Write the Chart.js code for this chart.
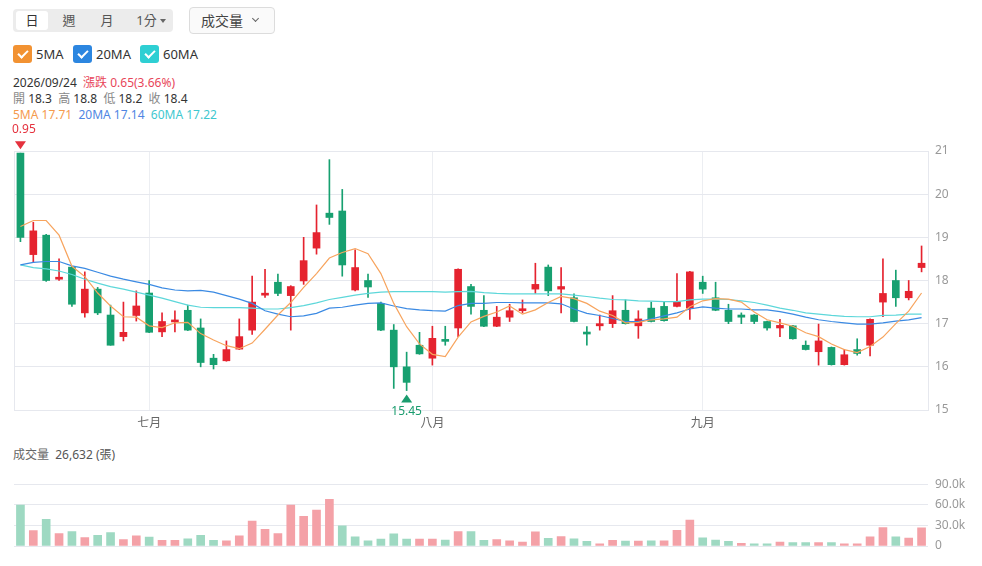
<!DOCTYPE html>
<html lang="zh-Hant">
<head>
<meta charset="UTF-8">
<title>日K線</title>
<script src="https://cdn.jsdelivr.net/npm/chart.js"></script>
<style>
  body { margin: 0; width: 982px; height: 566px; position: relative; overflow: hidden; background: #fff;
         font-family: "Noto Sans", "Noto Sans CJK TC", sans-serif; color: #333; }
  .abs { position: absolute; }
  .seg { left: 13px; top: 9px; width: 160px; height: 23px; background: #ececec; border-radius: 4px; }
  .seg span { position: absolute; top: 2px; height: 19px; line-height: 19px; font-size: 13px; color: #555; text-align: center; }
  .seg .on { background: #fff; border-radius: 3px; color: #333; }
  .caret { display: inline-block; width: 0; height: 0; border-left: 3px solid transparent; border-right: 3px solid transparent;
           border-top: 4px solid #666; vertical-align: middle; margin-left: 3px; margin-top: -2px; }
  .drop { left: 189px; top: 7px; width: 84px; height: 25px; border: 1px solid #dcdcdc; border-radius: 4px; background: #fafafa; }
  .drop span { position: absolute; left: 11px; top: 0; line-height: 25px; font-size: 14px; color: #444; }
  .drop i { position: absolute; left: 63px; top: 8px; width: 4px; height: 4px; border-right: 1.3px solid #666; border-bottom: 1.3px solid #666; transform: rotate(45deg); }
  .cb { top: 45px; width: 19px; height: 18px; border-radius: 3px; }
  .cb::after { content: ""; position: absolute; left: 7px; top: 3px; width: 4px; height: 8px; border-right: 2px solid #fff; border-bottom: 2px solid #fff; transform: rotate(45deg); }
  .cbl { top: 45px; line-height: 18px; font-size: 13px; color: #333; }
  .info { left: 13px; font-size: 12px; line-height: 16px; white-space: pre; }
  .g { color: #888; }
  #price { left: 0; top: 118px; width: 982px; height: 312px; }
  #vol { left: 0; top: 470px; width: 982px; height: 96px; }
</style>
</head>
<body>
<div class="abs seg">
  <span class="on" style="left:3px;width:32px">日</span>
  <span style="left:40px;width:32px">週</span>
  <span style="left:78px;width:32px">月</span>
  <span style="left:118px;width:40px">1分<b class="caret"></b></span>
</div>
<div class="abs drop"><span>成交量</span><i></i></div>

<div class="abs cb" style="left:13px;background:#f29232"></div>
<div class="abs cbl" style="left:36px">5MA</div>
<div class="abs cb" style="left:73px;background:#2c86e0"></div>
<div class="abs cbl" style="left:96px">20MA</div>
<div class="abs cb" style="left:140px;background:#2ecfd3"></div>
<div class="abs cbl" style="left:163px">60MA</div>

<div class="abs info" id="line1" style="top:75px"></div>
<div class="abs info" id="line2" style="top:91px"></div>
<div class="abs info" id="line3" style="top:107px"></div>
<div class="abs info" id="volLine" style="top:447px;color:#555"></div>

<div class="abs" id="price"><canvas id="priceChart"></canvas></div>
<div class="abs" id="vol"><canvas id="volChart"></canvas></div>

<script>
// 日期 (交易日)
const dates = [
  '2026/06/16','2026/06/17','2026/06/18','2026/06/22','2026/06/23','2026/06/24','2026/06/25','2026/06/26','2026/06/29','2026/06/30',
  '2026/07/01','2026/07/02','2026/07/03','2026/07/06','2026/07/07','2026/07/08','2026/07/09','2026/07/10','2026/07/13','2026/07/15',
  '2026/07/16','2026/07/17','2026/07/20','2026/07/21','2026/07/22','2026/07/23','2026/07/24','2026/07/27','2026/07/28','2026/07/29',
  '2026/07/30','2026/07/31',
  '2026/08/03','2026/08/04','2026/08/05','2026/08/06','2026/08/07','2026/08/10','2026/08/11','2026/08/12','2026/08/13','2026/08/14',
  '2026/08/17','2026/08/18','2026/08/19','2026/08/20','2026/08/21','2026/08/24','2026/08/25','2026/08/26','2026/08/27','2026/08/28',
  '2026/08/31',
  '2026/09/01','2026/09/02','2026/09/03','2026/09/04','2026/09/07','2026/09/08','2026/09/09','2026/09/10','2026/09/11','2026/09/14',
  '2026/09/15','2026/09/16','2026/09/17','2026/09/18','2026/09/21','2026/09/22','2026/09/23','2026/09/24'
];
const monthNames = ['一月','二月','三月','四月','五月','六月','七月','八月','九月','十月','十一月','十二月'];

// 開高低收
const opens  = [20.95,18.60,19.05,18.03,18.31,17.25,17.80,17.20,16.70,17.19,17.71,16.81,17.04,17.31,16.90,16.20,16.14,16.41,16.85,17.66,
                17.96,17.65,17.99,18.75,19.56,19.61,17.78,18.00,17.47,16.85,16.00,16.50,16.20,16.61,16.90,17.86,17.31,16.94,17.15,17.30,
                17.80,18.31,17.80,17.60,16.79,16.95,17.00,17.31,16.95,17.36,17.40,17.40,17.36,17.96,17.60,17.31,17.20,17.20,17.05,16.90,
                16.95,16.50,16.35,16.45,16.05,16.40,16.50,17.50,18.00,17.60,18.30];
const highs  = [20.95,19.35,19.07,18.50,18.33,18.20,17.84,17.43,17.50,17.76,18.00,17.25,17.30,17.43,17.11,16.29,16.60,17.11,18.10,18.26,
                18.15,17.88,19.00,19.75,20.80,20.11,18.71,18.15,17.50,16.98,16.34,16.80,16.94,16.94,18.27,17.91,17.65,17.40,17.45,17.55,
                18.40,18.36,18.30,17.69,16.93,17.20,17.65,17.55,17.30,17.50,17.50,18.16,18.21,18.10,17.96,17.45,17.25,17.21,17.06,17.10,
                16.96,16.60,16.99,16.46,16.40,16.65,17.11,18.50,18.24,18.00,18.80];
const lows   = [18.90,18.42,17.98,18.00,17.40,17.15,17.21,16.50,16.60,17.06,16.79,16.70,16.81,16.84,16.00,15.95,16.13,16.40,16.75,17.61,
                17.65,16.85,17.91,18.61,19.30,18.10,17.76,17.61,16.84,15.50,15.45,16.29,16.04,16.50,16.70,17.22,16.93,16.93,17.05,17.25,
                17.70,17.65,17.25,17.04,16.50,16.85,16.91,16.99,16.66,17.04,17.06,17.39,17.10,17.70,17.30,17.00,17.00,17.00,16.85,16.70,
                16.64,16.39,16.04,16.04,16.04,16.27,16.25,17.16,17.40,17.55,18.20];
const closes = [19.00,19.15,18.00,18.07,17.45,17.80,17.25,16.50,16.80,17.41,16.80,17.05,17.06,16.85,16.10,16.05,16.40,16.70,17.50,17.68,
                17.70,17.86,18.46,19.11,19.46,18.36,18.30,17.85,16.85,16.00,15.64,16.30,16.66,16.59,18.26,17.40,16.94,17.15,17.30,17.32,
                17.91,17.76,17.86,17.05,16.76,17.00,17.30,17.00,17.11,17.05,17.07,17.51,18.20,17.80,17.31,17.05,17.15,17.05,16.90,16.96,
                16.65,16.40,16.60,16.05,16.28,16.31,17.10,17.70,17.60,17.75,18.40];

// 均線
const ma5  = [19.25,19.39,19.39,19.05,18.33,18.09,17.71,17.41,17.16,17.15,16.95,16.91,17.02,17.03,16.77,16.62,16.49,16.42,16.55,16.87,
              17.20,17.49,17.84,18.16,18.52,18.65,18.74,18.62,18.16,17.47,16.93,16.53,16.29,16.24,16.69,17.04,17.17,17.27,17.41,17.22,
              17.32,17.49,17.63,17.58,17.47,17.29,17.19,17.02,17.03,17.09,17.11,17.15,17.39,17.53,17.58,17.57,17.50,17.27,17.09,17.02,
              16.94,16.79,16.70,16.53,16.40,16.33,16.47,16.69,17.00,17.29,17.71];
const ma20 = [18.36,18.42,18.44,18.44,18.34,18.28,18.19,18.10,18.03,17.97,17.91,17.83,17.78,17.76,17.77,17.73,17.65,17.57,17.47,17.30,
              17.22,17.16,17.18,17.24,17.36,17.38,17.43,17.47,17.48,17.41,17.35,17.32,17.30,17.29,17.42,17.47,17.47,17.49,17.49,17.48,
              17.48,17.48,17.46,17.34,17.24,17.19,17.12,17.05,17.05,17.11,17.18,17.25,17.34,17.39,17.36,17.34,17.34,17.32,17.32,17.28,
              17.22,17.15,17.09,17.05,17.02,16.99,16.99,17.02,17.06,17.09,17.14];
const ma60 = [18.36,18.30,18.27,18.22,18.14,18.03,17.94,17.86,17.80,17.73,17.66,17.59,17.51,17.43,17.38,17.37,17.37,17.37,17.36,17.34,
              17.34,17.37,17.42,17.48,17.56,17.61,17.66,17.70,17.73,17.74,17.74,17.74,17.74,17.73,17.74,17.75,17.72,17.70,17.69,17.69,
              17.69,17.69,17.69,17.66,17.63,17.59,17.56,17.55,17.53,17.52,17.51,17.51,17.55,17.57,17.57,17.56,17.53,17.49,17.43,17.36,
              17.31,17.25,17.22,17.19,17.17,17.16,17.16,17.19,17.20,17.22,17.22];

// 成交量 (張)
const volumes = [59500,22400,39000,18000,21000,12400,15700,19500,9500,14800,12900,8100,8100,10500,15700,8100,7600,14800,36200,24300,
                 18100,59500,43300,52400,68000,29500,13300,7600,10000,17600,10000,10000,10000,8600,21000,21000,8100,9500,7600,5700,
                 20500,11000,13800,10500,6700,3300,8100,7100,7100,7600,7600,22800,37600,11900,8600,6700,3800,3300,3300,5700,
                 4800,4800,4800,4800,3300,3300,13300,26700,13300,11400,26632];

const UP = '#e5232f', DOWN = '#17a070';
const UP_VOL = '#f4a1a7', DOWN_VOL = '#9ed9c2';
const GRID = '#e6e8ee';

Chart.defaults.font.family = '"Noto Sans", "Noto Sans CJK TC", sans-serif';
Chart.defaults.animation = false;

// 標頭文字
const n = closes.length - 1;
const chg = closes[n] - closes[n - 1];
document.getElementById('line1').innerHTML =
  dates[n] + '  <span style="color:#e8465a">漲跌 ' + chg.toFixed(2) + '(' + (chg / closes[n - 1] * 100).toFixed(2) + '%)</span>';
document.getElementById('line2').innerHTML =
  '<span class="g">開</span> ' + opens[n].toFixed(1) + '  <span class="g">高</span> ' + highs[n].toFixed(1) +
  '  <span class="g">低</span> ' + lows[n].toFixed(1) + '  <span class="g">收</span> ' + closes[n].toFixed(1);
document.getElementById('line3').innerHTML =
  '<span style="color:#f59a4d">5MA ' + ma5[n].toFixed(2) + '</span>  <span style="color:#4f86e3">20MA ' + ma20[n].toFixed(2) +
  '</span>  <span style="color:#3fc8cf">60MA ' + ma60[n].toFixed(2) + '</span>';
document.getElementById('volLine').innerHTML =
  '<span style="color:#666">成交量</span>  ' + volumes[n].toLocaleString('en-US') + ' (張)';

const isMonthStart = i => i > 0 && dates[i].slice(5, 7) !== dates[i - 1].slice(5, 7);
const candleColors = closes.map((c, i) => c >= opens[i] ? UP : DOWN);
const volColors = closes.map((c, i) => (i === 0 ? c >= opens[0] : c >= closes[i - 1]) ? UP_VOL : DOWN_VOL);

// 外框
const framePlugin = {
  id: 'frame',
  beforeDatasetsDraw(chart) {
    const { ctx, chartArea: a } = chart;
    ctx.save();
    ctx.strokeStyle = GRID;
    ctx.lineWidth = 1;
    ctx.strokeRect(Math.round(a.left) + 0.5, Math.round(a.top) + 0.5, Math.round(a.right - a.left), Math.round(a.bottom - a.top));
    ctx.restore();
  }
};

// 最高 / 最低標記
const hiLoPlugin = {
  id: 'hiLo',
  afterDatasetsDraw(chart) {
    const { ctx, scales: { x, y }, chartArea } = chart;
    let hi = 0, lo = 0;
    highs.forEach((v, i) => { if (v > highs[hi]) hi = i; });
    lows.forEach((v, i) => { if (v < lows[lo]) lo = i; });
    ctx.save();
    ctx.beginPath();
    ctx.rect(chartArea.left - 2, 0, chart.width, chart.height);
    ctx.clip();
    ctx.font = '12px "Noto Sans", sans-serif';
    ctx.textAlign = 'center';

    const hx = x.getPixelForValue(hi), hy = y.getPixelForValue(highs[hi]) - 4;
    ctx.fillStyle = '#e5323e';
    ctx.beginPath();
    ctx.moveTo(hx, hy); ctx.lineTo(hx - 5.5, hy - 8); ctx.lineTo(hx + 5.5, hy - 8); ctx.closePath();
    ctx.fill();
    ctx.textBaseline = 'alphabetic';
    ctx.fillText(highs[hi].toFixed(2), hx, hy - 16);

    const lx = x.getPixelForValue(lo), ly = y.getPixelForValue(lows[lo]) + 4;
    ctx.fillStyle = '#1a9c6e';
    ctx.beginPath();
    ctx.moveTo(lx, ly); ctx.lineTo(lx - 5.5, ly + 8); ctx.lineTo(lx + 5.5, ly + 8); ctx.closePath();
    ctx.fill();
    ctx.textBaseline = 'top';
    ctx.fillText(lows[lo].toFixed(2), lx, ly + 11);
    ctx.restore();
  }
};

const maLine = (label, data, color) => ({
  type: 'line', label, data, borderColor: color, borderWidth: 1.2, pointRadius: 0, tension: 0, order: 0
});

new Chart(document.getElementById('priceChart'), {
  type: 'bar',
  data: {
    labels: dates,
    datasets: [
      maLine('5MA', ma5, '#f7a45e'),
      maLine('20MA', ma20, '#3b8ae3'),
      maLine('60MA', ma60, '#5dd7da'),
      { label: 'body', data: opens.map((o, i) => [o, closes[i]]), backgroundColor: candleColors,
        barThickness: 7, minBarLength: 2, grouped: false, order: 1 },
      { label: 'wick', data: lows.map((l, i) => [l, highs[i]]), backgroundColor: candleColors,
        barThickness: 1, grouped: false, order: 2 }
    ]
  },
  options: {
    responsive: true,
    maintainAspectRatio: false,
    layout: { padding: { top: 33, left: 14, right: 0, bottom: 0 } },
    plugins: { legend: { display: false }, tooltip: { enabled: false } },
    scales: {
      x: {
        grid: { offset: false, drawTicks: false, color: c => isMonthStart(c.index) ? '#eceef2' : 'rgba(0,0,0,0)' },
        border: { display: false },
        ticks: {
          autoSkip: false, maxRotation: 0, padding: 6, color: '#666', font: { size: 12 },
          callback: (v, i) => isMonthStart(i) ? monthNames[+dates[i].slice(5, 7) - 1] : ''
        },
        afterFit: s => { s.height = 20; }
      },
      y: {
        position: 'right', min: 15, max: 21,
        grid: { color: GRID, drawTicks: false },
        border: { display: false },
        ticks: { stepSize: 1, padding: 7, color: '#999', font: { size: 12 } },
        afterFit: s => { s.width = 54; }
      }
    }
  },
  plugins: [framePlugin, hiLoPlugin]
});

new Chart(document.getElementById('volChart'), {
  type: 'bar',
  data: {
    labels: dates,
    datasets: [{ label: '成交量', data: volumes, backgroundColor: volColors, barThickness: 8 }]
  },
  options: {
    responsive: true,
    maintainAspectRatio: false,
    layout: { padding: { top: 14, left: 14, right: 0, bottom: 20 } },
    plugins: { legend: { display: false }, tooltip: { enabled: false } },
    scales: {
      x: { display: false },
      y: {
        position: 'right', min: 0, max: 90000,
        grid: { color: GRID, drawTicks: false },
        border: { display: false },
        ticks: { stepSize: 30000, padding: 7, color: '#999', font: { size: 12 },
                 callback: v => v === 0 ? '0' : (v / 1000).toFixed(1) + 'k' },
        afterFit: s => { s.width = 54; }
      }
    }
  }
});
</script>
</body>
</html>
